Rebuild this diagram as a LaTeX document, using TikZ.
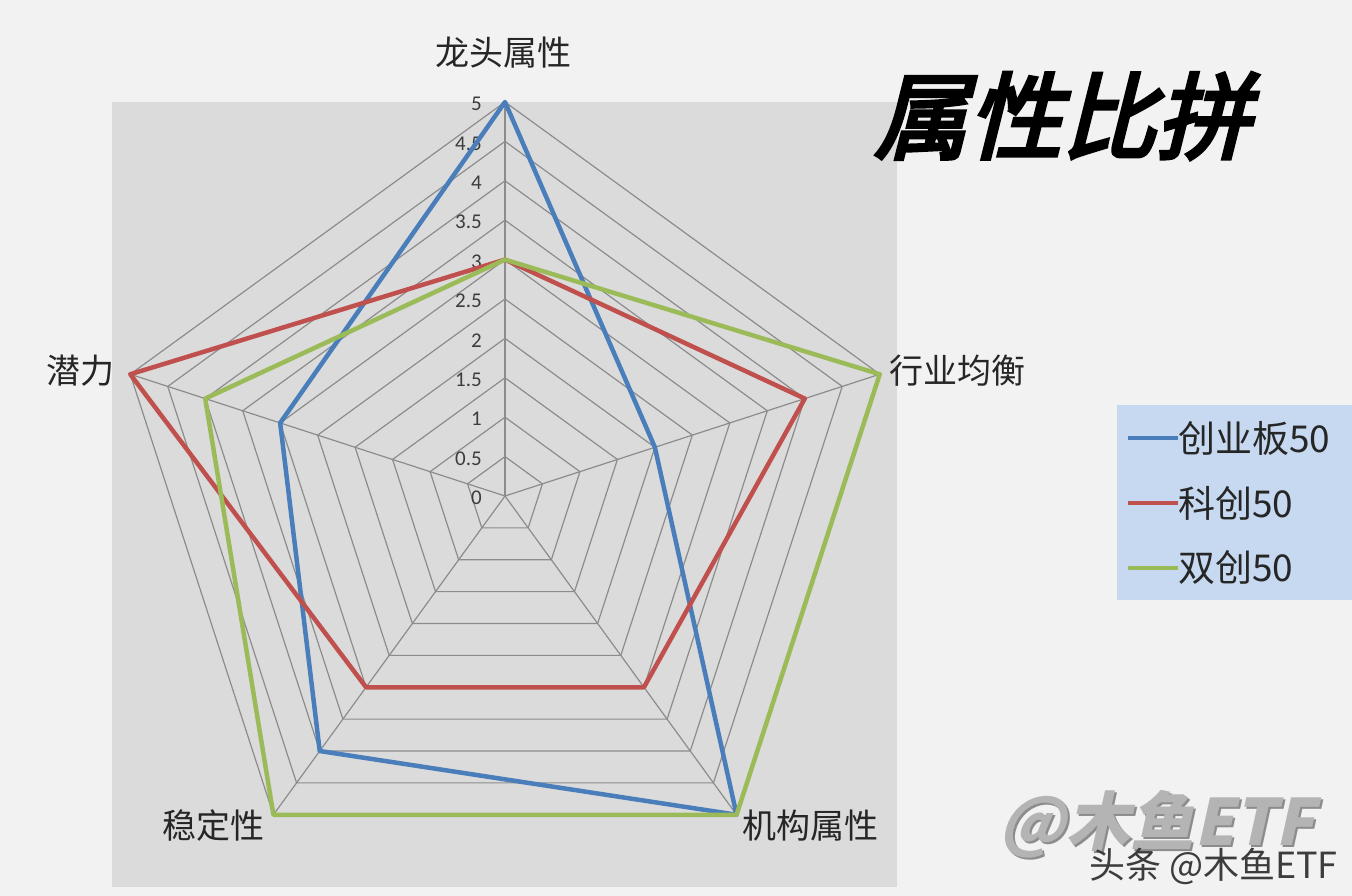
\documentclass[tikz,border=0pt]{standalone}
\usepackage{fontspec}
\setmainfont{Carlito}
\newfontfamily\cjk{Noto Sans CJK SC}
\newfontfamily\titlefont[FakeSlant=0.25,FakeBold=4]{Noto Sans CJK SC}
\newfontfamily\wmfont[FakeSlant=0.22]{Noto Sans CJK SC}
\definecolor{bgc}{HTML}{F2F2F2}
\definecolor{plotc}{HTML}{DBDBDB}
\definecolor{gridc}{HTML}{8C8C8C}
\definecolor{s1}{HTML}{4A7EBB}
\definecolor{s2}{HTML}{C0504D}
\definecolor{s3}{HTML}{9BBB59}
\definecolor{legc}{HTML}{C6D9F0}
\definecolor{txt}{HTML}{262626}
\definecolor{wmc}{HTML}{B4B4B4}
\begin{document}
\begin{tikzpicture}[x=1pt,y=-1pt,
  gridline/.style={draw=gridc,line width=1.2pt},
  serie/.style={line width=4.5pt,line join=round},
  axlab/.style={text=txt,font=\cjk\fontsize{34}{34}\selectfont,inner sep=0pt},
  ticklab/.style={text=txt!90,font=\fontsize{21}{21}\selectfont,inner sep=0pt,anchor=east},
  legtxt/.style={text=txt,font=\cjk\fontsize{37}{37}\selectfont,inner sep=0pt,anchor=west}]
\useasboundingbox (0,0) rectangle (1352,896);
\fill[bgc] (0,0) rectangle (1352,896);
\fill[plotc] (112,102) rectangle (897,887);
\begin{scope}[shift={(505,496)}]
  \coordinate (c) at (0,0);
  \foreach \k in {1,...,10}{
    \draw[gridline] (-90:{\k*39.4}) -- (-18:{\k*39.4}) -- (54:{\k*39.4}) -- (126:{\k*39.4}) -- (-162:{\k*39.4}) -- cycle;
  }
  \foreach \a in {-90,-18,54,126,-162}{
    \draw[gridline] (c) -- (\a:394);
  }
  \foreach \v/\t in {0/0,1/0.5,2/1,3/1.5,4/2,5/2.5,6/3,7/3.5,8/4,9/4.5,10/5}{
    \node[ticklab] (t\v) at (-23,{-\v*39.4+2}) {\t};
  }
  \def\u{78.8}
  \draw[serie,s1] (-90:{5*\u}) -- (-18:{2*\u}) -- (54:{5*\u}) -- (126:{4*\u}) -- (-162:{3*\u}) -- cycle;
  \draw[serie,s2] (-90:{3*\u}) -- (-18:{4*\u}) -- (54:{3*\u}) -- (126:{3*\u}) -- (-162:{5*\u}) -- cycle;
  \draw[serie,s3] (-90:{3*\u}) -- (-18:{5*\u}) -- (54:{5*\u}) -- (126:{5*\u}) -- (-162:{4*\u}) -- cycle;
\end{scope}
% axis labels
\node[axlab] (a1) at (503,53) {龙头属性};
\node[axlab,anchor=west] (a2) at (889,371) {行业均衡};
\node[axlab,anchor=east] (a3) at (115,371) {潜力};
\node[axlab,anchor=west] (a4) at (742,826) {机构属性};
\node[axlab,anchor=east] (a5) at (265,826) {稳定性};
% title
\node[inner sep=0pt,font=\titlefont\fontsize{94}{94}\selectfont] (title) at (1062,116) {属性比拼};
% legend
\fill[legc] (1117,405) rectangle (1352,600);
\coordinate (l1a) at (1128,438); \coordinate (l1b) at (1178,438);
\coordinate (l2a) at (1128,503); \coordinate (l2b) at (1178,503);
\coordinate (l3a) at (1128,568); \coordinate (l3b) at (1178,568);
\draw[s1,line width=4pt] (l1a) -- (l1b);
\draw[s2,line width=4pt] (l2a) -- (l2b);
\draw[s3,line width=4pt] (l3a) -- (l3b);
\node[legtxt] (g1) at (1178,438) {创业板50};
\node[legtxt] (g2) at (1178,503) {科创50};
\node[legtxt] (g3) at (1178,568) {双创50};
% watermark
\node[inner sep=0pt,text=black!45,font=\wmfont\bfseries\fontsize{64}{64}\selectfont] at (1159,826) {@木鱼ETF};
\node[inner sep=0pt,text=wmc,font=\wmfont\bfseries\fontsize{64}{64}\selectfont] (wm) at (1157,824) {@木鱼ETF};
\node[inner sep=0pt,text=txt!90,anchor=east,font=\cjk\fontsize{36}{36}\selectfont] (src) at (1338,866) {头条 @木鱼ETF};
\end{tikzpicture}
\end{document}
